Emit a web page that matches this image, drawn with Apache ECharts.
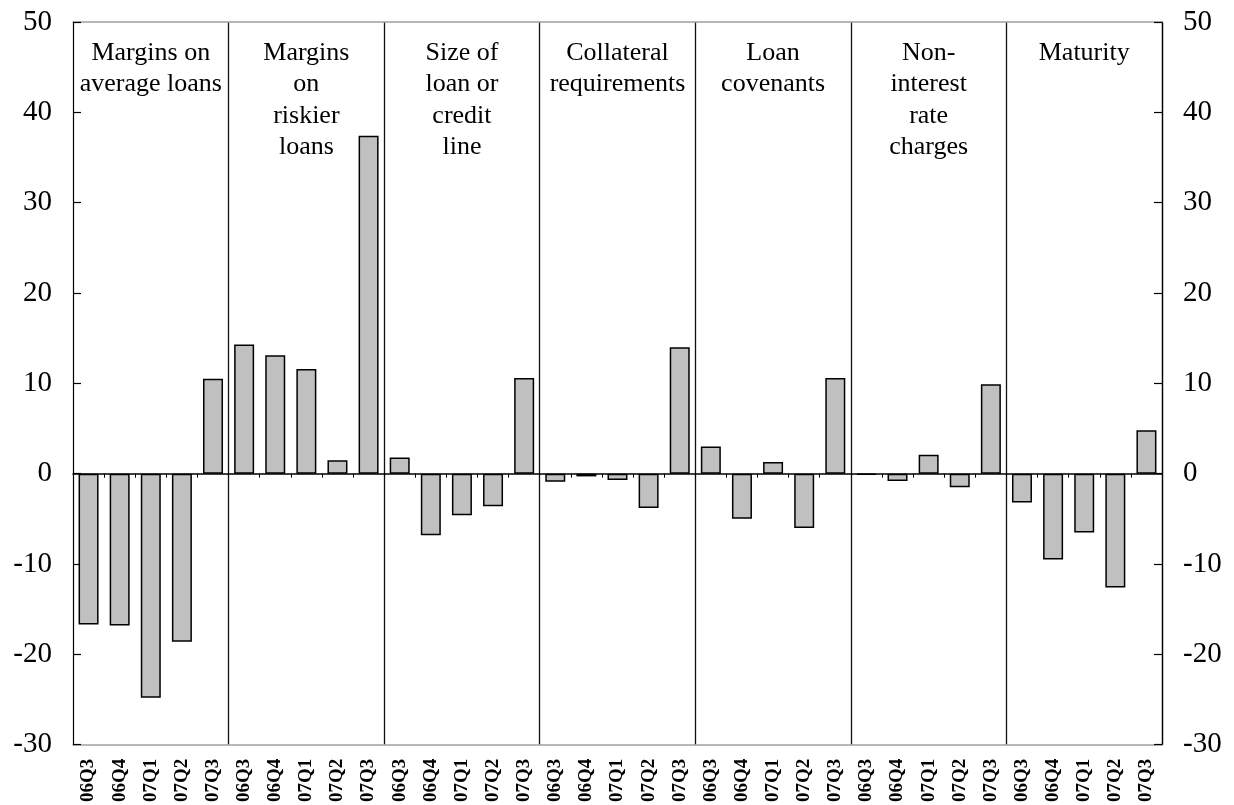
<!DOCTYPE html>
<html>
<head>
<meta charset="utf-8">
<script src="https://cdn.jsdelivr.net/npm/echarts@6/dist/echarts.min.js"></script>
<style>
html,body{margin:0;padding:0;background:#fff;}
#chart{width:1234px;height:805px;}
</style>
</head>
<body>
<div id="chart"></div>
<script>
const quarters = ['06Q3', '06Q4', '07Q1', '07Q2', '07Q3'];
const groupNames = [
  'Margins on\naverage loans',
  'Margins\non\nriskier\nloans',
  'Size of\nloan or\ncredit\nline',
  'Collateral\nrequirements',
  'Loan\ncovenants',
  'Non-\ninterest\nrate\ncharges',
  'Maturity'
];
const marginsAverage = [-16.7, -16.8, -24.8, -18.6, 10.5];
const marginsRiskier = [14.3, 13.1, 11.6, 1.5, 37.4];
const sizeOfLoan = [1.8, -6.8, -4.6, -3.6, 10.6];
const collateral = [-0.9, -0.3, -0.7, -3.8, 14.0];
const covenants = [3.0, -5.0, 1.3, -6.0, 10.6];
const nonInterest = [-0.1, -0.8, 2.1, -1.5, 9.9];
const maturity = [-3.2, -9.5, -6.5, -12.6, 4.8];
const yTicks = [-30, -20, -10, 0, 10, 20, 30, 40, 50];

const groupValues = [marginsAverage, marginsRiskier, sizeOfLoan, collateral, covenants, nonInterest, maturity];
const categories = [];
const values = [];
groupValues.forEach(g => {
  g.forEach((v, i) => { categories.push(quarters[i]); values.push(v); });
});

const FONT = 'Liberation Serif';
const yMin = yTicks[0], yMax = yTicks[yTicks.length - 1], yStep = yTicks[1] - yTicks[0];

function yAxisDef(pos) {
  return {
    type: 'value', position: pos, min: yMin, max: yMax, interval: yStep,
    axisLine: { show: true, lineStyle: { color: '#000', width: 1.2 } },
    axisTick: { show: true, inside: true, length: 8, lineStyle: { color: '#000', width: 1.2 } },
    axisLabel: { fontFamily: FONT, fontSize: 29, color: '#000', margin: 21 },
    splitLine: { show: false }
  };
}

const chart = echarts.init(document.getElementById('chart'));
chart.setOption({
  animation: false,
  backgroundColor: '#fff',
  grid: { left: 73, right: 72, top: 22, bottom: 58, containLabel: false },
  xAxis: [
    {
      type: 'category', data: categories, position: 'bottom',
      axisLine: { onZero: false, lineStyle: { color: '#a0a0a0', width: 1.5 } },
      axisTick: { show: false },
      axisLabel: { interval: 0, rotate: 90, fontFamily: FONT, fontWeight: 'bold', fontSize: 19, color: '#000', margin: 14 },
      splitLine: { show: true, interval: (i) => i > 0 && i % 5 === 0, lineStyle: { color: '#111', width: 1.3 } }
    },
    {
      type: 'category', data: groupNames, position: 'top',
      axisLine: { onZero: false, lineStyle: { color: '#a0a0a0', width: 1.5 } },
      axisTick: { show: false },
      axisLabel: { interval: 0, inside: true, margin: 15, fontFamily: FONT, fontSize: 26, lineHeight: 31.5, color: '#000', verticalAlign: 'top', align: 'center' },
      splitLine: { show: false }
    },
    {
      type: 'category', data: categories, position: 'bottom',
      axisLine: { onZero: true, onZeroAxisIndex: 0, lineStyle: { color: '#000', width: 1.5 } },
      axisTick: { show: true, interval: 0, length: 4, lineStyle: { color: '#000', width: 1 } },
      axisLabel: { show: false },
      splitLine: { show: false }
    }
  ],
  yAxis: [yAxisDef('left'), yAxisDef('right')],
  series: [{
    type: 'bar', xAxisIndex: 0, yAxisIndex: 0, data: values, barWidth: 20,
    itemStyle: { color: '#c0c0c0', borderColor: '#000', borderWidth: 1.5 }
  }]
});
</script>
</body>
</html>
